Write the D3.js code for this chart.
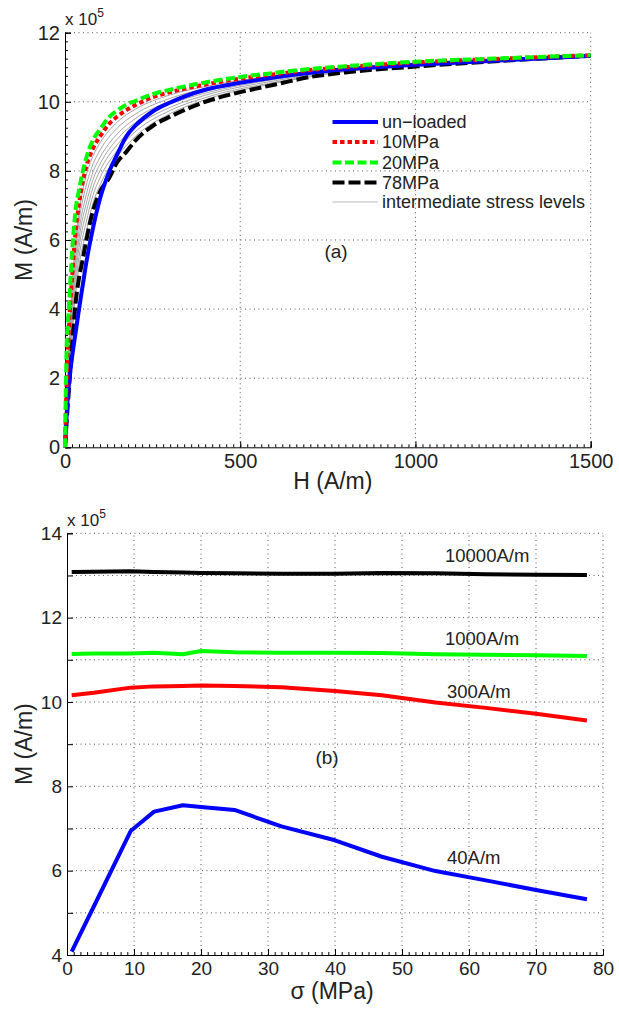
<!DOCTYPE html>
<html>
<head>
<meta charset="utf-8">
<script src="https://cdn.jsdelivr.net/npm/d3@7/dist/d3.min.js"></script>
<style>
  html, body { margin: 0; padding: 0; background: #fff; }
  svg { display: block; font-family: "Liberation Sans", Arial, Helvetica, sans-serif; }
</style>
</head>
<body>
<svg id="fig" width="619" height="1017"></svg>
<script>
// ---------- (a) magnetisation curves M(H), M in units of 1e5 A/m ----------
const hMain = [0, 5, 10, 20, 30, 40, 50, 60, 80, 100, 125, 150, 175, 200, 250, 300, 400, 500, 600, 700, 800, 1000, 1250, 1500];
const mUnloaded = [0, 1.0, 1.7, 2.6, 3.3, 4.0, 4.65, 5.3, 6.35, 7.2, 7.95, 8.5, 9.0, 9.3, 9.72, 9.98, 10.35, 10.55, 10.71, 10.84, 10.94, 11.07, 11.2, 11.33];
const m10MPa = [0, 2.0, 3.2, 4.9, 6.2, 7.05, 7.65, 8.1, 8.65, 9.0, 9.35, 9.58, 9.76, 9.9, 10.13, 10.28, 10.5, 10.67, 10.8, 10.92, 11.0, 11.14, 11.25, 11.35];
const m20MPa = [0, 3.0, 3.85, 5.6, 6.85, 7.45, 7.95, 8.35, 8.9, 9.2, 9.55, 9.75, 9.92, 10.02, 10.22, 10.35, 10.56, 10.72, 10.84, 10.95, 11.03, 11.16, 11.26, 11.35];
const m78MPa = [0, 0.8, 1.5, 2.9, 4.15, 4.9, 5.4, 5.95, 6.85, 7.4, 7.78, 8.27, 8.55, 8.87, 9.3, 9.57, 10.0, 10.28, 10.5, 10.72, 10.85, 11.02, 11.19, 11.33];

// intermediate stress levels (thin grey curves)
const hGrey = [0, 10, 20, 30, 40, 60, 80, 100, 150, 200, 300, 400, 600, 800, 1000, 1500];
const mGrey1 = [0, 2.64, 4.66, 5.95, 6.80, 7.84, 8.43, 8.81, 9.42, 9.78, 10.20, 10.44, 10.76, 10.98, 11.13, 11.35];
const mGrey2 = [0, 2.48, 4.40, 5.69, 6.54, 7.56, 8.20, 8.60, 9.25, 9.64, 10.10, 10.38, 10.73, 10.96, 11.11, 11.35];
const mGrey3 = [0, 2.31, 4.14, 5.42, 6.27, 7.28, 7.97, 8.39, 9.08, 9.51, 10.01, 10.31, 10.69, 10.94, 11.09, 11.34];
const mGrey4 = [0, 2.15, 3.90, 5.18, 6.03, 7.03, 7.75, 8.20, 8.93, 9.39, 9.93, 10.25, 10.65, 10.93, 11.08, 11.34];
const mGrey5 = [0, 1.99, 3.66, 4.93, 5.78, 6.77, 7.53, 8.01, 8.77, 9.26, 9.84, 10.19, 10.61, 10.91, 11.07, 11.34];
const mGrey6 = [0, 1.82, 3.40, 4.66, 5.51, 6.49, 7.30, 7.80, 8.60, 9.13, 9.75, 10.12, 10.57, 10.89, 11.05, 11.34];
const mGrey7 = [0, 1.66, 3.14, 4.40, 5.25, 6.21, 7.07, 7.59, 8.43, 8.99, 9.66, 10.06, 10.54, 10.87, 11.03, 11.33];

const hTicks = [0, 500, 1000, 1500];
const mTicksA = [0, 2, 4, 6, 8, 10, 12];
const legendLabels = ["un\u2212loaded", "10MPa", "20MPa", "78MPa", "intermediate stress levels"];

// ---------- (b) magnetisation versus stress at fixed field ----------
const sigma = [0.7, 4, 9.5, 13, 17.3, 20, 25, 32, 40, 47, 55, 62.5, 70, 77.6];
const m10000 = [13.08, 13.09, 13.10, 13.08, 13.07, 13.06, 13.05, 13.04, 13.04, 13.06, 13.05, 13.03, 13.02, 13.01];
const m1000 = [11.14, 11.15, 11.15, 11.17, 11.13, 11.21, 11.18, 11.17, 11.17, 11.16, 11.13, 11.12, 11.11, 11.09];
const m300 = [10.16, 10.22, 10.34, 10.37, 10.38, 10.39, 10.38, 10.35, 10.26, 10.16, 9.99, 9.86, 9.72, 9.56];
const m40 = [4.08, 5.15, 6.94, 7.40, 7.55, 7.51, 7.44, 7.05, 6.72, 6.33, 5.99, 5.77, 5.54, 5.32];
const sigmaTicks = [0, 10, 20, 30, 40, 50, 60, 70, 80];
const mTicksB = [4, 5, 6, 7, 8, 9, 10, 11, 12, 13, 14];
const fieldLabels = ["10000A/m", "1000A/m", "300A/m", "40A/m"];

const svg = d3.select("#fig");
const textCol = "#222";
const gridCol = "#555";

function drawAxes(g, x, y, opt) {
  const [x0, x1] = x.range();
  const [y0, y1] = y.range();
  // dotted grid
  g.append("g").selectAll("line").data(opt.xGrid).join("line")
    .attr("x1", d => x(d)).attr("x2", d => x(d)).attr("y1", y0).attr("y2", y1)
    .attr("stroke", gridCol).attr("stroke-width", 1).attr("stroke-dasharray", "1,3.5");
  g.append("g").selectAll("line").data(opt.yGrid).join("line")
    .attr("x1", x0).attr("x2", x1).attr("y1", d => y(d)).attr("y2", d => y(d))
    .attr("stroke", gridCol).attr("stroke-width", 1).attr("stroke-dasharray", "1,3.5");

  // x axis (ticks pointing inward)
  const xa = g.append("g").attr("transform", `translate(0,${y0})`)
    .call(d3.axisBottom(x).tickValues(opt.xTicks).tickSize(-6).tickPadding(7).tickFormat(d3.format("d")));
  xa.select(".domain").attr("stroke", "#000");
  xa.selectAll("text").attr("font-size", opt.tickFont).attr("fill", textCol);
  const xm = g.append("g").attr("transform", `translate(0,${y0})`)
    .call(d3.axisBottom(x).tickValues(opt.xMinor).tickSize(-3).tickFormat(""));
  xm.select(".domain").remove();

  // y axis
  const ya = g.append("g").attr("transform", `translate(${x0},0)`)
    .call(d3.axisLeft(y).tickValues(opt.yTicks).tickSize(-6).tickPadding(5)
      .tickFormat(d => opt.yLabelled.includes(d) ? d3.format("d")(d) : ""));
  ya.select(".domain").attr("stroke", "#000");
  ya.selectAll("text").attr("font-size", opt.tickFont).attr("fill", textCol);
  if (opt.yMinor) {
    const ym = g.append("g").attr("transform", `translate(${x0},0)`)
      .call(d3.axisLeft(y).tickValues(opt.yMinor).tickSize(-3).tickFormat(""));
    ym.select(".domain").remove();
  }

  // exponent label
  const ex = g.append("text").attr("x", x0).attr("y", opt.expY).attr("fill", textCol).attr("font-size", 17);
  ex.append("tspan").text("x 10");
  ex.append("tspan").attr("font-size", 12).attr("dy", -8).text("5");

  // axis titles
  g.append("text").attr("x", (x0 + x1) / 2 + opt.xTitleDx).attr("y", opt.xTitleY)
    .attr("text-anchor", "middle").attr("font-size", 23).attr("fill", textCol).text(opt.xTitle);
  g.append("text").attr("transform", `translate(${opt.yTitleX},${(y0 + y1) / 2}) rotate(-90)`)
    .attr("text-anchor", "middle").attr("font-size", 23).attr("fill", textCol).text("M (A/m)");
}

// ================= panel (a) =================
const xA = d3.scaleLinear().domain([0, 1500]).range([65, 590.7]);
const yA = d3.scaleLinear().domain([0, 12]).range([447.3, 32.7]);
const gA = svg.append("g");

drawAxes(gA, xA, yA, {
  xGrid: [500, 1000, 1500], yGrid: [2, 4, 6, 8, 10, 12],
  xTicks: hTicks, xMinor: d3.range(0, 1501, 20),
  yTicks: mTicksA, yLabelled: mTicksA, yMinor: d3.range(0, 12.01, 0.25),
  tickFont: 20, expY: 25, xTitle: "H (A/m)", xTitleDx: 5, xTitleY: 489, yTitleX: 32
});

const lineA = (hs) => d3.line().x((d, i) => xA(hs[i])).y(d => yA(d)).curve(d3.curveMonotoneX);

const greyCurves = [mGrey1, mGrey2, mGrey3, mGrey4, mGrey5, mGrey6, mGrey7];
gA.append("g").selectAll("path").data(greyCurves).join("path")
  .attr("d", d => lineA(hGrey)(d)).attr("fill", "none")
  .attr("stroke", "#a6a6a6").attr("stroke-width", 1);

const mainCurves = [
  { m: m78MPa, color: "#000", dash: "12,4" },
  { m: mUnloaded, color: "#0000ff", dash: null },
  { m: m10MPa, color: "#ff0000", dash: "4.5,3" },
  { m: m20MPa, color: "#00ff00", dash: "9,3.5" }
];
gA.append("g").selectAll("path").data(mainCurves).join("path")
  .attr("d", d => lineA(hMain)(d.m)).attr("fill", "none")
  .attr("stroke", d => d.color).attr("stroke-width", 4)
  .attr("stroke-dasharray", d => d.dash);

// legend
const legendStyles = [
  { color: "#0000ff", dash: null, w: 4 },
  { color: "#ff0000", dash: "4.5,3", w: 4 },
  { color: "#00ff00", dash: "9,3.5", w: 4 },
  { color: "#000", dash: "12,4", w: 4 },
  { color: "#bbbbbb", dash: null, w: 1.2 }
];
const leg = gA.append("g");
const legRows = [122, 142, 162.5, 182.5, 202];
legendLabels.forEach((lab, i) => {
  leg.append("line").attr("x1", 332.5).attr("x2", 378).attr("y1", legRows[i]).attr("y2", legRows[i])
    .attr("stroke", legendStyles[i].color).attr("stroke-width", legendStyles[i].w)
    .attr("stroke-dasharray", legendStyles[i].dash);
  leg.append("text").attr("x", 382).attr("y", legRows[i] + 6).attr("font-size", 18)
    .attr("fill", textCol).text(lab);
});
gA.append("text").attr("x", 336).attr("y", 258).attr("text-anchor", "middle")
  .attr("font-size", 19).attr("fill", textCol).text("(a)");

// ================= panel (b) =================
const xB = d3.scaleLinear().domain([0, 80]).range([67, 603]);
const yB = d3.scaleLinear().domain([4, 14]).range([955, 533.3]);
const gB = svg.append("g");

drawAxes(gB, xB, yB, {
  xGrid: sigmaTicks.slice(1), yGrid: mTicksB.slice(1),
  xTicks: sigmaTicks, xMinor: d3.range(0, 80.01, 1),
  yTicks: mTicksB, yLabelled: [4, 6, 8, 10, 12, 14], yMinor: null,
  tickFont: 19, expY: 526, xTitle: "\u03c3 (MPa)", xTitleDx: -3, xTitleY: 999, yTitleX: 32
});

const lineB = d3.line().x((d, i) => xB(sigma[i])).y(d => yB(d));
const fieldCurves = [
  { m: m10000, color: "#000" },
  { m: m1000, color: "#00ff00" },
  { m: m300, color: "#ff0000" },
  { m: m40, color: "#0000ff" }
];
gB.append("g").selectAll("path").data(fieldCurves).join("path")
  .attr("d", d => lineB(d.m)).attr("fill", "none")
  .attr("stroke", d => d.color).attr("stroke-width", 4).attr("stroke-linejoin", "round");

const labelPos = [[445, 562], [445, 644.5], [447, 698], [447, 863.5]];
fieldLabels.forEach((lab, i) => {
  gB.append("text").attr("x", labelPos[i][0]).attr("y", labelPos[i][1])
    .attr("font-size", 18.5).attr("fill", textCol).text(lab);
});
gB.append("text").attr("x", 327).attr("y", 764).attr("text-anchor", "middle")
  .attr("font-size", 19).attr("fill", textCol).text("(b)");
</script>
</body>
</html>
